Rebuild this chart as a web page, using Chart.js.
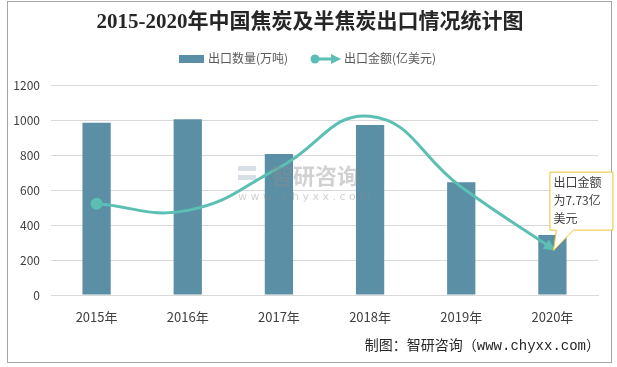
<!DOCTYPE html>
<html>
<head>
<meta charset="utf-8">
<script src="https://cdn.jsdelivr.net/npm/chart.js@4/dist/chart.umd.min.js"></script>
<style>
  html, body { margin: 0; padding: 0; background: #fff; }
  #wrap { width: 617px; height: 367px; position: relative; }
</style>
</head>
<body>
<div id="wrap"><canvas id="chart" width="617" height="367"></canvas></div>
<script>
'use strict';

var years = [ '2015年', '2016年', '2017年', '2018年', '2019年', '2020年' ];
var exportVolume = [ 984, 1004, 806, 971, 644, 343 ];      // 万吨
var exportValue = [ 15.2, 14.1, 21.2, 29.8, 18.0, 7.73 ];  // 亿美元
var volumeTicks = [ 0, 200, 400, 600, 800, 1000, 1200 ];

var BAR = '#5b8fa6';
var LINE = '#5bbfb3';
var CJK = "'Noto Sans CJK SC'";

// frame, title, legend, source, watermark and callout
var decor = {
    id: 'decor',
    beforeDraw: function( chart ) {
        var c = chart.ctx;
        c.save();
        c.fillStyle = '#fff';
        c.fillRect( 0, 0, chart.width, chart.height );
        c.strokeStyle = '#a6a6a6';
        c.lineWidth = 1;
        c.strokeRect( 7.5, 1.5, 604, 361 );
        c.restore();
    },
    afterDatasetsDraw: function( chart ) {
        var c = chart.ctx;

        // watermark over the bars
        c.save();
        c.globalAlpha = 0.4;
        c.fillStyle = '#9fb0c8';
        c.fillRect( 238, 166, 18, 5 );
        c.fillRect( 238, 175, 18, 5 );
        c.fillStyle = '#8c8c8c';
        c.font = 'bold 22px ' + CJK;
        c.textAlign = 'left';
        c.textBaseline = 'middle';
        c.fillText( '智研咨询', 271, 176 );
        c.font = '11px "DejaVu Sans"';
        c.fillText( 'w w w . c h y x x . c o m', 238, 197 );
        c.restore();

        var meta = chart.getDatasetMeta( 1 );
        var pts = meta.data;
        var last = pts[ pts.length - 1 ];
        var prev = last.cp1x !== undefined ? { x: last.cp1x, y: last.cp1y } : pts[ pts.length - 2 ];
        var ang = Math.atan2( last.y - prev.y, last.x - prev.x );

        // arrow head at line end
        c.save();
        c.fillStyle = LINE;
        c.translate( last.x, last.y );
        c.rotate( ang );
        c.beginPath();
        c.moveTo( 4, 0 );
        c.lineTo( -8, -5.5 );
        c.lineTo( -8, 5.5 );
        c.closePath();
        c.fill();
        c.restore();

        // callout
        var bx = last.x - 3, by = last.y - 77, bw = 63, bh = 58;
        c.save();
        c.fillStyle = '#fff';
        c.strokeStyle = '#f2c037';
        c.lineWidth = 1;
        c.beginPath();
        c.moveTo( bx + 0.5, by + 0.5 );
        c.lineTo( bx + bw + 0.5, by + 0.5 );
        c.lineTo( bx + bw + 0.5, by + bh + 0.5 );
        c.lineTo( bx + 24, by + bh + 0.5 );
        c.lineTo( last.x + 1, last.y + 2 );
        c.lineTo( bx + 7, by + bh + 0.5 );
        c.lineTo( bx + 0.5, by + bh + 0.5 );
        c.closePath();
        c.fill();
        c.stroke();
        c.fillStyle = '#404040';
        c.font = '12px ' + CJK;
        c.textAlign = 'left';
        c.textBaseline = 'middle';
        c.fillText( '出口金额', bx + 4, by + 11 );
        c.fillText( '为7.73亿', bx + 4, by + 29 );
        c.fillText( '美元', bx + 4, by + 47 );
        c.restore();
    },
    afterDraw: function( chart ) {
        var c = chart.ctx;
        c.save();
        c.textBaseline = 'middle';
        c.textAlign = 'center';
        c.fillStyle = '#262626';
        c.font = "bold 21px 'Liberation Serif', " + CJK;
        c.fillText( '2015-2020年中国焦炭及半焦炭出口情况统计图', 310, 23 );

        // legend
        c.font = '12px ' + CJK;
        c.textAlign = 'left';
        c.fillStyle = BAR;
        c.fillRect( 179, 55, 25, 8 );
        c.fillStyle = '#595959';
        c.fillText( '出口数量(万吨)', 208, 58 );
        c.strokeStyle = LINE;
        c.fillStyle = LINE;
        c.lineWidth = 3;
        c.beginPath();
        c.moveTo( 315, 59 );
        c.lineTo( 334, 59 );
        c.stroke();
        c.beginPath();
        c.arc( 315, 59, 4.5, 0, Math.PI * 2 );
        c.fill();
        c.beginPath();
        c.moveTo( 341, 59 );
        c.lineTo( 331, 54 );
        c.lineTo( 331, 64 );
        c.closePath();
        c.fill();
        c.fillStyle = '#595959';
        c.fillText( '出口金额(亿美元)', 344, 58 );

        // source
        c.textAlign = 'right';
        c.fillStyle = '#262626';
        c.font = "14px 'Liberation Mono', " + CJK;
        c.fillText( '制图：智研咨询（www.chyxx.com）', 600, 346 );
        c.restore();
    }
};

new Chart( document.getElementById( 'chart' ).getContext( '2d' ), {
    type: 'bar',
    data: {
        labels: years,
        datasets: [ {
            type: 'bar',
            label: '出口数量(万吨)',
            data: exportVolume,
            backgroundColor: BAR,
            categoryPercentage: 1,
            barPercentage: 0.31,
            yAxisID: 'y',
            order: 2
        }, {
            type: 'line',
            label: '出口金额(亿美元)',
            data: exportValue,
            borderColor: LINE,
            backgroundColor: LINE,
            borderWidth: 3,
            tension: 0.45,
            pointRadius: [ 4.5, 0, 0, 0, 0, 0 ],
            pointHoverRadius: 0,
            yAxisID: 'y2',
            order: 1
        } ]
    },
    options: {
        responsive: false,
        animation: false,
        events: [],
        layout: { padding: { top: 85, right: 19, bottom: 32, left: 0 } },
        plugins: {
            legend: { display: false },
            title: { display: false },
            tooltip: { enabled: false }
        },
        scales: {
            x: {
                grid: { display: false, drawTicks: false },
                border: { display: true, color: '#d9d9d9' },
                ticks: { color: '#404040', padding: 14, font: { size: 13, family: CJK } },
                afterFit: function( s ) { s.height = 40; }
            },
            y: {
                min: 0,
                max: 1200,
                afterBuildTicks: function( s ) {
                    s.ticks = volumeTicks.map( function( v ) { return { value: v }; } );
                },
                grid: { color: '#d9d9d9', drawTicks: false },
                border: { display: false },
                ticks: {
                    color: '#404040',
                    padding: 11,
                    font: { size: 12, family: CJK },
                    callback: function( v ) { return String( v ); }
                },
                afterFit: function( s ) { s.width = 51; }
            },
            y2: {
                display: false,
                min: 0,
                max: 35
            }
        }
    },
    plugins: [ decor ]
} );
</script>
</body>
</html>
